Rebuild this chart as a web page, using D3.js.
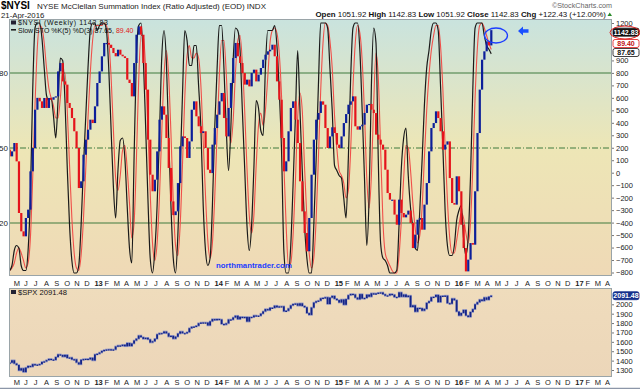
<!DOCTYPE html>
<html>
<head>
<meta charset="utf-8">
<script src="https://cdn.jsdelivr.net/npm/d3@7"></script>
<style>
  body { margin: 0; background: #fff; }
  text { font-family: "Liberation Sans", Arial, sans-serif; }
</style>
</head>
<body>
<div id="chart"></div>
<script>
// weekly closes of $NYSI, Apr 20 2012 .. Apr 22 2016
const nysiFirstOpen = 185;
const nysiClose = [
  131, 171, 238, 91, -323, -470, -510, -363, -296, 11,
  198, 505, 600, 572, 519, 599, 519, 599, 585, 605,
  612, 812, 879, 732, 706, 559, 519, 438, 332, 198,
  -123, -69, 144, 265, 345, 425, 398, 532, 719, 812,
  933, 1040, 1040, 1026, 1000, 959, 933, 986, 946, 933,
  919, 746, 719, 612,
  879, 1106, 1173, 1106, 879, 666, 265, -16, -149, -56,
  171, 425, 532, 465, 278, 38, -230, -340, -310, -83,
  211, 291, 278, 118, 251, 505, 572, 452, 372, 318,
  332, 198, 24, -3, 225, 358, 465, 572, 639, 438,
  291, 519, 719, 919, 1040, 933, 879, 799, 706, 746,
  692, 800,
  826, 732, 786, 839, 906, 946, 973, 986, 1026, 933,
  732, 585, 278, 11, 91, 332, 519, 572, 425, 238,
  -69, -310, -483, -630, -363, -16, 265, 425, 479, 572,
  545, 358, 198, 291, 364, 318, 225, 198, 291, 398,
  470, 545, 572, 612, 372, 345, 372, 385, 479, 545,
  551, 505,
  478, 305, 265, 225, 185, 24, -163, -216, -216, -336,
  -417, -216, -323, -358, -336, -304, -403, -604, -497, -377,
  -363, -457, -256, -83, 171, 358, 398, 492, 438, 332,
  185, 225, 251, -43, -243, -256, -29, -149, -417, -604,
  -791, -697, -564, -577, -149, 318, 666, 906, 973, 1053,
  1020.40, 1142.83
];

// Slow STO %K(5) (black) and %D(3) (red)
const stoK = [
  1, 3, 9, 11, 10, 3, 1, 1, 9, 31,
  73, 98, 100, 100, 94, 82, 71, 69, 70, 63,
  54, 69, 86, 85, 69, 42, 19, 5, 0, 0,
  3, 19, 42, 62, 82, 97, 100, 100, 97, 99,
  100, 100, 97, 82, 58, 35, 22, 41, 53, 54,
  46, 27, 10, 4, 46, 86, 99, 100, 86, 59,
  30, 6, 0, 9, 27, 55, 86, 97, 85, 55,
  27, 6, 0, 15, 42, 71, 97, 93, 83, 83,
  91, 91, 75, 58, 27, 9, 3, 6, 27, 58,
  81, 99, 99, 82, 58, 41, 58, 85, 98, 97,
  89, 65, 42, 19, 9, 19, 42, 69, 66, 57,
  55, 82, 97, 97, 97, 99, 91, 73, 49, 9,
  0, 0, 11, 35, 62, 89, 65, 41, 19, 6,
  0, 0, 19, 45, 75, 100, 100, 100, 98, 82,
  65, 43, 41, 39, 38, 30, 22, 46, 78, 98,
  100, 100, 89, 65, 38, 11, 30, 75, 98, 92,
  45, 12, 6, 5, 3, 0, 0, 0, 1, 19,
  42, 54, 58, 39, 26, 18, 10, 9, 25, 45,
  67, 82, 89, 97, 100, 100, 97, 75, 51, 25,
  11, 7, 7, 11, 21, 25, 27, 14, 7, 14,
  38, 73, 98, 100, 100, 100, 95, 91, 89.5, 87.65
];
const stoD = [
  1, 2, 4, 8, 10, 8, 5, 2, 4, 14,
  38, 67, 90, 99, 98, 92, 82, 74, 70, 67,
  62, 62, 70, 80, 80, 65, 43, 22, 8, 2,
  1, 7, 21, 41, 62, 80, 93, 99, 99, 99,
  99, 100, 99, 93, 79, 58, 38, 33, 39, 49,
  51, 42, 28, 14, 20, 45, 77, 95, 95, 82,
  58, 32, 12, 5, 12, 30, 56, 79, 89, 79,
  56, 29, 11, 7, 19, 43, 70, 87, 91, 86,
  86, 88, 86, 75, 53, 31, 13, 6, 12, 30,
  55, 79, 93, 93, 80, 60, 52, 61, 80, 93,
  95, 84, 65, 42, 23, 16, 23, 43, 59, 64,
  59, 65, 78, 92, 97, 98, 96, 88, 71, 44,
  19, 3, 4, 15, 36, 62, 72, 65, 42, 22,
  8, 2, 6, 21, 46, 73, 92, 100, 99, 93,
  82, 63, 50, 41, 39, 36, 30, 33, 49, 74,
  92, 99, 96, 85, 64, 38, 26, 39, 68, 88,
  78, 50, 21, 8, 5, 3, 1, 0, 0, 7,
  21, 38, 51, 50, 41, 28, 18, 12, 15, 26,
  46, 65, 79, 89, 95, 99, 99, 91, 74, 50,
  29, 14, 8, 8, 13, 19, 24, 22, 16, 12,
  20, 42, 70, 90, 99, 100, 98, 95, 92, 89.4
];

// weekly closes of $SPX, same weeks
const spxFirstOpen = 1370;
const spxClose = [
  1378, 1403, 1369, 1353, 1295, 1318, 1278, 1325, 1343, 1335,
  1362, 1355, 1357, 1363, 1386, 1391, 1405, 1418, 1411, 1407,
  1438, 1466, 1460, 1441, 1461, 1428, 1433, 1412, 1414, 1380,
  1360, 1409, 1416, 1418, 1413, 1430, 1402,
  1466, 1472, 1486, 1503, 1513, 1518, 1520, 1516, 1518, 1551,
  1561, 1556, 1569, 1553, 1588, 1555, 1582, 1614, 1633, 1667,
  1650, 1631, 1643, 1626, 1593, 1606, 1632, 1680, 1692, 1692,
  1710, 1691, 1656, 1664, 1633, 1655, 1688, 1710, 1692, 1691,
  1703, 1745, 1760, 1762, 1771, 1798, 1805, 1806, 1805, 1775,
  1818, 1842,
  1832, 1843, 1838, 1790, 1783, 1797, 1838, 1836, 1859, 1878,
  1841, 1866, 1857, 1865, 1816, 1864, 1863, 1881, 1878, 1878,
  1900, 1924, 1949, 1936, 1963, 1961, 1985, 1968, 1978, 1978,
  1925, 1931, 1955, 1988, 2003, 2008, 1985, 2010, 1982, 1968,
  1906, 1887, 1965, 2018, 2032, 2039, 2064, 2068, 2075, 2003,
  2071, 2089,
  2058, 2045, 2019, 2051, 1995, 2055, 2097, 2110, 2105, 2071,
  2053, 2108, 2061, 2067, 2102, 2081, 2117, 2108, 2116, 2123,
  2126, 2107, 2092, 2094, 2110, 2102, 2077, 2077, 2127, 2080,
  2104, 2078, 2092, 1971, 1989, 1921, 1961, 1958, 1932, 1951,
  2015, 2033, 2075, 2079, 2100, 2023, 2089, 2090, 2092, 2012,
  2006, 2061, 2044,
  1922, 1880, 1907, 1940, 1880, 1865, 1918, 1948, 2000, 2022,
  2050, 2036, 2073, 2048, 2081, 2091.48
];

const nysiTicks = [1200, 900, 800, 700, 600, 500, 400, 300, 200, 100, 0,
  -100, -200, -300, -400, -500, -600, -700, -800];
const stoLevels = [80, 50, 20];
const spxTicks = [2000, 1900, 1800, 1700, 1600, 1500, 1400, 1300];
const monthInitials = ['J', 'F', 'M', 'A', 'M', 'J', 'J', 'A', 'S', 'O', 'N', 'D'];

const width = 640;
const height = 389;
const svg = d3.select('#chart').append('svg').attr('width', width).attr('height', height);

const left = 9;
const right = 612;
const top1 = 19, bot1 = 276;   // indicator panel
const top2 = 288, bot2 = 377;  // SPX panel

const weeks = d3.timeFriday.range(new Date(2012, 3, 20), new Date(2016, 3, 23));

const x = d3.scaleTime()
  .domain([new Date(2012, 3, 18), new Date(2017, 3, 24)])
  .range([left, right]);
const yN = d3.scaleLinear().domain([-800, 1200]).range([272.5, 23]);
const yS = d3.scaleLinear().domain([0, 100]).range([273, 23]);
const yP = d3.scaleLinear().domain([1300, 2000]).range([370, 304.3]);

// backgrounds
const defs = svg.append('defs');
const g1 = defs.append('linearGradient').attr('id', 'bg1').attr('x1', 0).attr('y1', 0).attr('x2', 0).attr('y2', 1);
g1.append('stop').attr('offset', '0%').attr('stop-color', '#c9e3de');
g1.append('stop').attr('offset', '50%').attr('stop-color', '#ede6b6');
g1.append('stop').attr('offset', '100%').attr('stop-color', '#efd9b6');
const g2 = defs.append('linearGradient').attr('id', 'bg2').attr('x1', 0).attr('y1', 0).attr('x2', 0).attr('y2', 1);
g2.append('stop').attr('offset', '0%').attr('stop-color', '#efdcbc');
g2.append('stop').attr('offset', '100%').attr('stop-color', '#ecd6b9');

defs.append('clipPath').attr('id', 'clip1').append('rect')
  .attr('x', left).attr('y', top1).attr('width', right - left).attr('height', bot1 - top1);
defs.append('clipPath').attr('id', 'clip2').append('rect')
  .attr('x', left).attr('y', top2).attr('width', right - left).attr('height', bot2 - top2);

svg.append('rect').attr('x', left).attr('y', top1).attr('width', right - left).attr('height', bot1 - top1)
  .attr('fill', 'url(#bg1)');
svg.append('rect').attr('x', left).attr('y', top2).attr('width', right - left).attr('height', bot2 - top2)
  .attr('fill', 'url(#bg2)');

// header
svg.append('text').attr('x', 1).attr('y', 9).attr('font-size', 10).attr('font-weight', 'bold').text('$NYSI');
svg.append('text').attr('x', 37).attr('y', 9).attr('font-size', 8).attr('fill', '#222')
  .text('NYSE McClellan Summation Index (Ratio Adjusted) (EOD) INDX');
svg.append('text').attr('x', 1).attr('y', 18).attr('font-size', 7.8).attr('fill', '#222').text('21-Apr-2016');
svg.append('text').attr('x', 612).attr('y', 7.5).attr('font-size', 7.2).attr('fill', '#666')
  .attr('text-anchor', 'end').text('\u00a9StockCharts.com');

const quote = svg.append('text').attr('x', 606).attr('y', 17).attr('font-size', 7.9)
  .attr('text-anchor', 'end').attr('fill', '#111');
[['Open', '1051.92'], ['High', '1142.83'], ['Low', '1051.92'], ['Close', '1142.83'], ['Chg', '+122.43 (+12.00%)']]
  .forEach(([k, v]) => {
    quote.append('tspan').attr('font-weight', 'bold').text(k + ' ');
    quote.append('tspan').text(v + '  ');
  });
svg.append('path').attr('d', 'M607.5,16 L612,16 L609.75,12.5 Z').attr('fill', '#2a8a2a');

// reference lines for the stochastic
const p1 = svg.append('g').attr('clip-path', 'url(#clip1)');
p1.selectAll('.lvl')
  .data(stoLevels)
  .enter()
  .append('line')
  .attr('x1', left).attr('x2', right)
  .attr('y1', (d) => yS(d)).attr('y2', (d) => yS(d))
  .attr('stroke', '#3f7a3f')
  .attr('stroke-width', 1)
  .attr('stroke-dasharray', (d) => (d === 50 ? '6,2,1,2' : null));

// stochastic lines
const lineD = d3.line().x((d, i) => x(weeks[i])).y((d) => yS(d)).curve(d3.curveMonotoneX);
p1.append('path').datum(stoD).attr('d', lineD).attr('fill', 'none')
  .attr('stroke', '#f0504a').attr('stroke-width', 1.1);
p1.append('path').datum(stoK).attr('d', lineD).attr('fill', 'none')
  .attr('stroke', '#1a1a1a').attr('stroke-width', 1.2);

// NYSI weekly bars
const nysiBars = nysiClose.map((c, i) => ({
  date: weeks[i],
  open: i ? nysiClose[i - 1] : nysiFirstOpen,
  close: c
}));
p1.selectAll('.nbar')
  .data(nysiBars)
  .enter()
  .append('rect')
  .attr('class', 'nbar')
  .attr('x', (d) => x(d.date) - 1)
  .attr('width', 2.2)
  .attr('y', (d) => yN(Math.max(d.open, d.close)))
  .attr('height', (d) => Math.max(1.2, Math.abs(yN(d.open) - yN(d.close))))
  .attr('fill', (d) => (d.close >= d.open ? '#0c1f9a' : '#e5141b'));

// legend
svg.append('rect').attr('x', 11).attr('y', 20.5).attr('width', 5).attr('height', 4).attr('fill', '#223');
svg.append('text').attr('x', 18).attr('y', 24.8).attr('font-size', 7).attr('textLength', 90)
  .attr('fill', '#111').text('$NYSI (Weekly) 1142.83');
svg.append('line').attr('x1', 11).attr('x2', 16).attr('y1', 29.8).attr('y2', 29.8).attr('stroke', '#111').attr('stroke-width', 1.5);
const leg2 = svg.append('text').attr('x', 18).attr('y', 32.6).attr('font-size', 7).attr('fill', '#111');
leg2.append('tspan').text('Slow STO %K(5) %D(3) 87.65, ');
leg2.append('tspan').attr('fill', '#e01818').text('89.40');

// annotations
svg.append('text').attr('x', 216).attr('y', 268).attr('font-size', 7.8).attr('font-weight', 'bold')
  .attr('fill', '#1b3cff').text('northmantrader.com');
svg.append('ellipse').attr('cx', 496).attr('cy', 35.5).attr('rx', 11.5).attr('ry', 7.5)
  .attr('fill', 'none').attr('stroke', '#1b3cff').attr('stroke-width', 1.3);
svg.append('path').attr('d', 'M518,31 L523,26.5 L523,29.3 L528.5,29.3 L528.5,32.7 L523,32.7 L523,35.5 Z')
  .attr('fill', '#1b50ff');

// SPX panel
const p2 = svg.append('g').attr('clip-path', 'url(#clip2)');
const spxBars = spxClose.map((c, i) => ({
  date: weeks[i],
  open: i ? spxClose[i - 1] : spxFirstOpen,
  close: c
}));
p2.selectAll('.sbar')
  .data(spxBars)
  .enter()
  .append('rect')
  .attr('x', (d) => x(d.date) - 1.2)
  .attr('width', 2.4)
  .attr('y', (d) => yP(Math.max(d.open, d.close)) - 0.8)
  .attr('height', (d) => Math.abs(yP(d.open) - yP(d.close)) + 1.6)
  .attr('fill', '#8d93c4');
p2.selectAll('.sbar2')
  .data(spxBars)
  .enter()
  .append('rect')
  .attr('x', (d) => x(d.date) - 0.9)
  .attr('width', 1.8)
  .attr('y', (d) => yP(Math.max(d.open, d.close)))
  .attr('height', (d) => Math.max(1.2, Math.abs(yP(d.open) - yP(d.close))))
  .attr('fill', '#142487');

svg.append('rect').attr('x', 11).attr('y', 290).attr('width', 5).attr('height', 4).attr('fill', '#223');
svg.append('text').attr('x', 18).attr('y', 295).attr('font-size', 7.6).attr('fill', '#111').text('$SPX 2091.48');

// frames
[[top1, bot1], [top2, bot2]].forEach(([t, b]) => {
  svg.append('rect').attr('x', left + 0.5).attr('y', t + 0.5).attr('width', right - left - 1).attr('height', b - t - 1)
    .attr('fill', 'none').attr('stroke', '#9aa4a8').attr('stroke-width', 1);
});

// month strips
const months = d3.timeMonth.range(new Date(2012, 4, 1), new Date(2017, 4, 1));
function monthAxis(yBase) {
  const gm = svg.append('g');
  gm.selectAll('text')
    .data(months)
    .enter()
    .append('text')
    .attr('x', (d) => x(d) + 0.5)
    .attr('y', yBase)
    .attr('font-size', 7.5)
    .attr('font-weight', (d) => (d.getMonth() === 0 ? 'bold' : null))
    .attr('fill', '#222')
    .text((d) => (d.getMonth() === 0 ? d3.timeFormat('%y')(d) : monthInitials[d.getMonth()]));
}
monthAxis(285.5);
monthAxis(385);
svg.append('line').attr('x1', 0).attr('x2', 640).attr('y1', 388.5).attr('y2', 388.5)
  .attr('stroke', '#8c96a8').attr('stroke-width', 1.5);

// right axes
const axN = svg.append('g').attr('transform', `translate(${right},0)`)
  .call(d3.axisRight(yN).tickValues(nysiTicks).tickSize(2).tickPadding(2).tickFormat(d3.format('d')));
const axP = svg.append('g').attr('transform', `translate(${right},0)`)
  .call(d3.axisRight(yP).tickValues(spxTicks).tickSize(2).tickPadding(2).tickFormat(d3.format('d')));
[axN, axP].forEach((a) => {
  a.select('.domain').remove();
  a.selectAll('text').attr('font-size', 7.5).attr('fill', '#222').attr('font-family', '"Liberation Sans", Arial, sans-serif');
  a.selectAll('line').attr('stroke', '#777');
});

// left axis for the stochastic levels (clipped by the page edge)
const axS = svg.append('g').attr('transform', `translate(${left},0)`)
  .call(d3.axisLeft(yS).tickValues(stoLevels).tickSize(0).tickPadding(1));
axS.select('.domain').remove();
axS.selectAll('text').attr('font-size', 8).attr('fill', '#222').attr('font-family', '"Liberation Sans", Arial, sans-serif');

// last-value tags
function tag(yv, label, fill, stroke, color) {
  const g = svg.append('g').attr('transform', `translate(${right + 1},${yv})`);
  g.append('rect').attr('x', 0).attr('y', -4).attr('width', 26).attr('height', 8).attr('rx', 2)
    .attr('fill', fill).attr('stroke', stroke).attr('stroke-width', 0.8);
  g.append('text').attr('x', 13).attr('y', 2.6).attr('text-anchor', 'middle').attr('font-size', 7)
    .attr('font-weight', 'bold').attr('fill', color).text(label);
}
tag(yN(1142.83) + 2, '1142.83', '#111', '#111', '#fff');
tag(43.5, '89.40', '#fff', '#e01818', '#c01010');
tag(52.5, '87.65', '#fff', '#111', '#111');
tag(yP(2091.48), '2091.48', '#16308c', '#16308c', '#fff');
svg.append('ellipse').attr('cx', 625).attr('cy', 32.5).attr('rx', 15).attr('ry', 6.5)
  .attr('fill', 'none').attr('stroke', '#e02020').attr('stroke-width', 1);
</script>
</body>
</html>
